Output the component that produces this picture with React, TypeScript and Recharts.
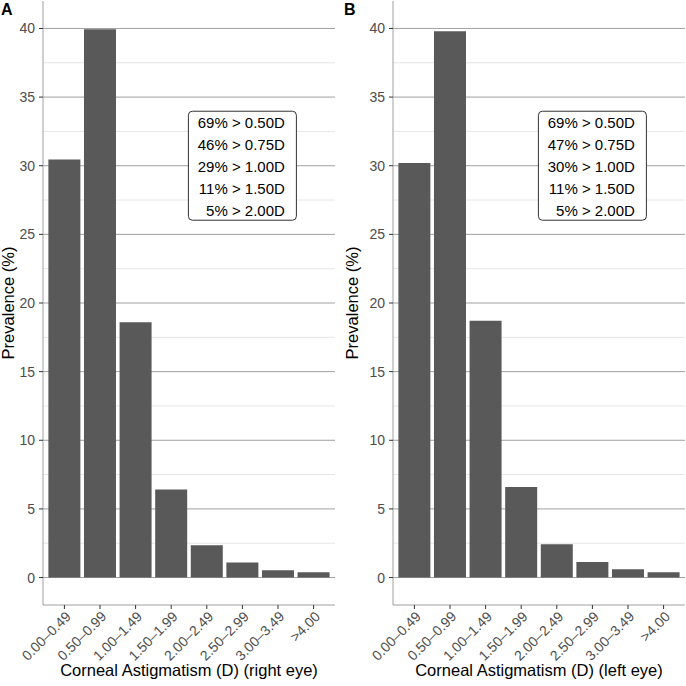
import { BarChart, Bar, XAxis, YAxis, CartesianGrid, ReferenceDot } from 'recharts';

const categories = ['0.00–0.49', '0.50–0.99', '1.00–1.49', '1.50–1.99', '2.00–2.49', '2.50–2.99', '3.00–3.49', '>4.00'];
const rightEye = [30.45, 39.95, 18.6, 6.42, 2.35, 1.09, 0.54, 0.39];
const leftEye = [30.2, 39.8, 18.7, 6.6, 2.43, 1.14, 0.61, 0.39];
const rightEyeNotes = ['69% > 0.50D', '46% > 0.75D', '29% > 1.00D', '11% > 1.50D', '5% > 2.00D'];
const leftEyeNotes = ['69% > 0.50D', '47% > 0.75D', '30% > 1.00D', '11% > 1.50D', '5% > 2.00D'];
const majorTicks = [0, 5, 10, 15, 20, 25, 30, 35, 40];
const minorTicks = [2.5, 7.5, 12.5, 17.5, 22.5, 27.5, 32.5, 37.5];

const FONT = "'Liberation Sans', Arial, Helvetica, sans-serif";
const FRAME = '#a0a0a0';

function XTick(props: any) {
  const { x, y, payload } = props;
  return (
    <text
      x={x}
      y={y}
      transform={`rotate(-45 ${x} ${y})`}
      textAnchor="end"
      dominantBaseline="hanging"
      fontSize={14}
      fill="#4d4d4d"
      fontFamily={FONT}
    >
      {payload.value}
    </text>
  );
}

function NoteBox(props: any) {
  const { cx, cy, lines } = props;
  return (
    <g>
      <rect x={cx - 54} y={cy - 54.5} width={108} height={109} rx={4} fill="#fff" stroke="#333" strokeWidth={1} />
      {lines.map((t: string, i: number) => (
        <text
          key={i}
          x={cx + 42.5}
          y={cy + (i - 2) * 22 + 1}
          textAnchor="end"
          dominantBaseline="central"
          fontSize={15}
          fill="#000"
          fontFamily={FONT}
        >
          {t}
        </text>
      ))}
    </g>
  );
}

function Panel({ values, notes, title, marginLeft, marginRight, titleX }: any) {
  const data = categories.map((c, i) => ({ cat: c, value: values[i] }));
  const yTitle = (p: any) => {
    const vb = p.viewBox;
    const cy = vb.y + vb.height / 2;
    return (
      <text
        x={titleX}
        y={cy}
        transform={`rotate(-90 ${titleX} ${cy})`}
        textAnchor="middle"
        dominantBaseline="central"
        fontSize={16.5}
        fill="#000"
        fontFamily={FONT}
      >
        Prevalence (%)
      </text>
    );
  };
  return (
    <BarChart
      width={343}
      height={686}
      data={data}
      margin={{ top: 1, right: marginRight, bottom: 0, left: marginLeft }}
      barCategoryGap="5%"
    >
      <CartesianGrid xAxisId="bottom" yAxisId="major" vertical={false} horizontalValues={minorTicks} stroke="#e6e6e6" />
      <CartesianGrid xAxisId="bottom" yAxisId="major" vertical={false} horizontalValues={majorTicks} stroke={FRAME} />
      <XAxis
        xAxisId="bottom"
        dataKey="cat"
        height={81}
        interval={0}
        padding={{ left: 3.6, right: 3.6 }}
        tickSize={4}
        tickMargin={1}
        tickLine={{ stroke: '#333' }}
        axisLine={{ stroke: FRAME }}
        tick={(p: any) => <XTick {...p} />}
        label={{ value: title, position: 'insideBottom', offset: 10, fontSize: 16.5, fill: '#000', fontFamily: FONT }}
      />
      <XAxis
        xAxisId="top"
        orientation="top"
        dataKey="cat"
        height={0}
        padding={{ left: 3.6, right: 3.6 }}
        tick={false}
        tickLine={false}
        axisLine={{ stroke: FRAME }}
      />
      <YAxis
        yAxisId="major"
        type="number"
        domain={[-2, 42]}
        allowDataOverflow
        ticks={majorTicks}
        interval={0}
        width={35}
        tickSize={4}
        tickMargin={4}
        tickLine={{ stroke: '#333' }}
        axisLine={{ stroke: FRAME }}
        tick={{ fontSize: 14, fill: '#4d4d4d', fontFamily: FONT }}
        label={yTitle}
      />
      <YAxis
        yAxisId="right"
        orientation="right"
        type="number"
        domain={[-2, 42]}
        allowDataOverflow
        width={0}
        tick={false}
        tickLine={false}
        axisLine={{ stroke: FRAME }}
      />
      <Bar xAxisId="bottom" yAxisId="major" dataKey="value" fill="#595959" isAnimationActive={false} />
      <ReferenceDot
        xAxisId="bottom"
        yAxisId="major"
        x={categories[5]}
        y={30}
        shape={(p: any) => <NoteBox {...p} lines={notes} />}
      />
    </BarChart>
  );
}

export default function App() {
  return (
    <div style={{ position: 'absolute', left: 0, top: 0, width: 686, height: 686, background: '#fff', fontFamily: FONT }}>
      <div style={{ position: 'absolute', left: 0, top: 0 }}>
        <Panel values={rightEye} notes={rightEyeNotes} title="Corneal Astigmatism (D) (right eye)" marginLeft={8} marginRight={8} titleX={7.5} />
      </div>
      <div style={{ position: 'absolute', left: 343, top: 0 }}>
        <Panel values={leftEye} notes={leftEyeNotes} title="Corneal Astigmatism (D) (left eye)" marginLeft={15} marginRight={1} titleX={9} />
      </div>
      <div style={{ position: 'absolute', left: 1, top: 2, fontSize: 16, fontWeight: 'bold', lineHeight: 1 }}>A</div>
      <div style={{ position: 'absolute', left: 344, top: 2, fontSize: 16, fontWeight: 'bold', lineHeight: 1 }}>B</div>
    </div>
  );
}
